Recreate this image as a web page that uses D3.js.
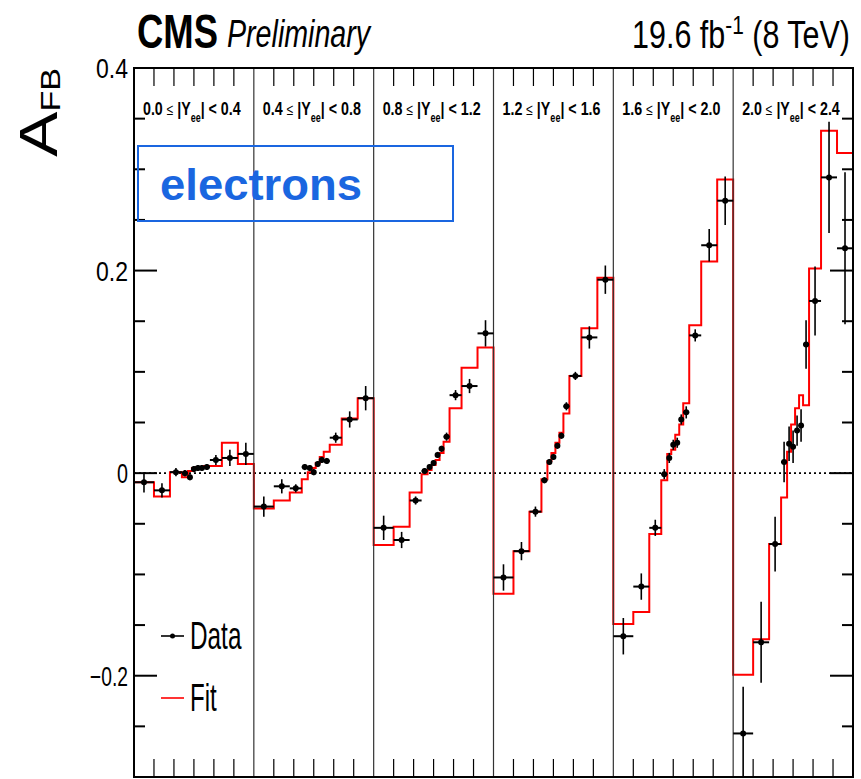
<!DOCTYPE html>
<html>
<head>
<meta charset="utf-8">
<script src="https://cdn.jsdelivr.net/npm/d3@7"></script>
<style>
  body { margin: 0; background: #fff; }
  svg { display: block; }
  text { font-family: "Liberation Sans", Arial, Helvetica, sans-serif; }
</style>
</head>
<body>
<svg id="chart" width="861" height="779"></svg>
<script>
// Dielectron mass bin edges (GeV), shared by every rapidity slice
const massEdges = [60, 70, 78, 84, 87, 89, 91, 93, 95, 98, 104, 112, 120];
// |Y_ee| slice boundaries
const rapidityEdges = ["0.0", "0.4", "0.8", "1.2", "1.6", "2.0", "2.4"];

// Fitted A_FB per rapidity slice (12 mass bins each)
const fitY00 = [-0.009, -0.023, 0.001, -0.004, 0.002, 0.005, 0.006, 0.006, 0.007, 0.007, 0.030, 0.009];
const fitY04 = [-0.035, -0.027, -0.019, -0.006, 0.001, 0.005, 0.010, 0.016, 0.021, 0.028, 0.054, 0.074];
const fitY08 = [-0.071, -0.053, -0.019, -0.001, 0.003, 0.008, 0.013, 0.020, 0.031, 0.064, 0.104, 0.124];
const fitY12 = [-0.119, -0.077, -0.038, -0.006, 0.012, 0.020, 0.030, 0.040, 0.059, 0.096, 0.143, 0.193];
const fitY16 = [-0.149, -0.137, -0.060, -0.007, 0.019, 0.023, 0.038, 0.048, 0.069, 0.146, 0.209, 0.290];
const fitY20 = [-0.199, -0.164, -0.070, -0.024, 0.021, 0.048, 0.064, 0.077, 0.067, 0.202, 0.338, 0.316];

// Measured A_FB per rapidity slice
const dataY00 = [-0.009, -0.017, 0.001, 0.000, -0.004, 0.004, 0.005, 0.005, 0.006, 0.013, 0.015, 0.019];
const dataY04 = [-0.033, -0.013, -0.015, 0.006, 0.005, 0.001, 0.009, 0.013, 0.012, 0.035, 0.053, 0.074];
const dataY08 = [-0.054, -0.066, -0.027, 0.002, 0.006, 0.010, 0.018, 0.024, 0.036, 0.077, 0.086, 0.138];
const dataY12 = [-0.103, -0.077, -0.038, -0.007, 0.011, 0.016, 0.027, 0.037, 0.066, 0.096, 0.134, 0.191];
const dataY16 = [-0.161, -0.112, -0.054, -0.001, 0.015, 0.028, 0.030, 0.053, 0.060, 0.136, 0.225, 0.269];
const dataY20 = [-0.257, -0.167, -0.070, 0.011, 0.029, 0.026, 0.042, 0.047, 0.127, 0.170, 0.292, 0.222];

// Statistical uncertainties on the measured values
const errY00 = [0.010, 0.007, 0.004, 0.003, 0.003, 0.003, 0.003, 0.003, 0.003, 0.005, 0.008, 0.011];
const errY04 = [0.010, 0.007, 0.004, 0.003, 0.003, 0.003, 0.003, 0.003, 0.003, 0.005, 0.008, 0.012];
const errY08 = [0.012, 0.008, 0.004, 0.003, 0.003, 0.003, 0.003, 0.003, 0.004, 0.005, 0.007, 0.013];
const errY12 = [0.013, 0.009, 0.005, 0.003, 0.003, 0.003, 0.003, 0.003, 0.004, 0.004, 0.011, 0.014];
const errY16 = [0.018, 0.013, 0.008, 0.005, 0.005, 0.005, 0.005, 0.005, 0.006, 0.006, 0.016, 0.024];
const errY20 = [0.046, 0.040, 0.027, 0.020, 0.017, 0.016, 0.015, 0.016, 0.024, 0.034, 0.055, 0.075];

const yTickLabels = [0.4, 0.2, 0, -0.2];

const fitSets = [fitY00, fitY04, fitY08, fitY12, fitY16, fitY20];
const dataSets = [dataY00, dataY04, dataY08, dataY12, dataY16, dataY20];
const errSets = [errY00, errY04, errY08, errY12, errY16, errY20];

// ---- layout ----
const L = 134, R = 853, T = 68, B = 777;
const nPanels = fitSets.length;
const pw = (R - L) / nPanels;

const svg = d3.select("#chart");
const y = d3.scaleLinear().domain([-0.3, 0.4]).range([B, T]);
const xPanel = d3.range(nPanels).map(i =>
  d3.scaleLinear().domain([massEdges[0], massEdges[massEdges.length - 1]])
    .range([L + i * pw, L + (i + 1) * pw]));

svg.append("defs").append("clipPath").attr("id", "plotClip")
  .append("rect").attr("x", L).attr("y", T).attr("width", R - L).attr("height", B - T);

const plot = svg.append("g").attr("clip-path", "url(#plotClip)");

// zero reference line
plot.append("line")
  .attr("x1", L).attr("x2", R).attr("y1", y(0)).attr("y2", y(0))
  .attr("stroke", "#000").attr("stroke-width", 1.6).attr("stroke-dasharray", "2,3");

// fitted step histogram, continuous over all slices
const stepPts = [];
fitSets.forEach((vals, i) => {
  vals.forEach((v, j) => {
    stepPts.push([xPanel[i](massEdges[j]), y(v)]);
    stepPts.push([xPanel[i](massEdges[j + 1]), y(v)]);
  });
});
plot.append("path")
  .attr("d", d3.line()(stepPts))
  .attr("fill", "none").attr("stroke", "#ff0000").attr("stroke-width", 2);

// slice separators
d3.range(1, nPanels).forEach(i => {
  plot.append("line")
    .attr("x1", L + i * pw).attr("x2", L + i * pw).attr("y1", T).attr("y2", B)
    .attr("stroke", "#333").attr("stroke-width", 1.2);
});

// data points with error bars
dataSets.forEach((vals, i) => {
  const xs = xPanel[i];
  const g = plot.append("g");
  vals.forEach((v, j) => {
    const lo = massEdges[j], hi = massEdges[j + 1];
    const cx = xs((lo + hi) / 2);
    const e = errSets[i][j];
    g.append("line").attr("x1", cx).attr("x2", cx).attr("y1", y(v - e)).attr("y2", y(v + e))
      .attr("stroke", "#000").attr("stroke-width", 1.6);
    g.append("line").attr("x1", xs(lo)).attr("x2", xs(hi)).attr("y1", y(v)).attr("y2", y(v))
      .attr("stroke", "#000").attr("stroke-width", 2);
    g.append("circle").attr("cx", cx).attr("cy", y(v)).attr("r", 3).attr("fill", "#000");
  });
});

// frame
svg.append("rect").attr("x", L).attr("y", T).attr("width", R - L).attr("height", B - T)
  .attr("fill", "none").attr("stroke", "#000").attr("stroke-width", 2);

// x ticks (every 10 GeV inside each slice), top and bottom
const ticks = svg.append("g").attr("stroke", "#000").attr("stroke-width", 1.2);
xPanel.forEach(xs => {
  d3.range(70, 120, 10).forEach(m => {
    ticks.append("line").attr("x1", xs(m)).attr("x2", xs(m)).attr("y1", T).attr("y2", T + 18);
    ticks.append("line").attr("x1", xs(m)).attr("x2", xs(m)).attr("y1", B - 18).attr("y2", B);
  });
});

// y ticks, left and right
d3.range(-6, 9).map(k => k * 0.05).forEach(v => {
  const major = Math.abs(v / 0.2 - Math.round(v / 0.2)) < 1e-6;
  const len = major ? 23 : 11;
  ticks.append("line").attr("x1", L).attr("x2", L + len).attr("y1", y(v)).attr("y2", y(v))
    .attr("stroke-width", 2);
  ticks.append("line").attr("x1", R - len).attr("x2", R).attr("y1", y(v)).attr("y2", y(v))
    .attr("stroke-width", 2);
});

// text helper: places text and squeezes it horizontally to a target width
function placeText(parent, x, yb, opts, build) {
  const g = parent.append("g");
  const t = g.append("text")
    .attr("font-size", opts.size)
    .attr("font-weight", opts.weight || "normal")
    .attr("font-style", opts.style || "normal")
    .attr("fill", opts.fill || "#000")
    .attr("text-anchor", opts.anchor || "start");
  if (typeof build === "string") t.text(build); else build(t);
  const w = t.node().getBBox().width;
  const sx = opts.width ? opts.width / w : 1;
  g.attr("transform", `translate(${x},${yb})${opts.rotate ? " rotate(" + opts.rotate + ")" : ""} scale(${sx},1)`);
  return g;
}

// y tick labels
const fmt = v => v === 0 ? "0" : (v < 0 ? "\u2212" : "") + Math.abs(v).toFixed(1);
yTickLabels.forEach(v => {
  const s = fmt(v);
  placeText(svg, 128, y(v) + 10, { size: 27, anchor: "end", width: s.length === 1 ? 11 : (s.length === 3 ? 32 : 38) }, s);
});

// y axis title
placeText(svg, 57, 157, { size: 54, rotate: -90, width: 89 }, t => {
  t.append("tspan").text("A");
  t.append("tspan").attr("font-size", 27).attr("dy", 3).text("FB");
});

// header
placeText(svg, 137, 48, { size: 49, weight: "bold", width: 81 }, "CMS");
placeText(svg, 227, 47, { size: 39, style: "italic", width: 145 }, "Preliminary");
placeText(svg, 850, 48, { size: 38, anchor: "end", width: 218 }, t => {
  t.append("tspan").text("19.6 fb");
  t.append("tspan").attr("font-size", 26).attr("dy", -14).text("-1");
  t.append("tspan").attr("dy", 14).text(" (8 TeV)");
});

// rapidity slice labels
d3.range(nPanels).forEach(i => {
  placeText(svg, L + i * pw + 9, 115, { size: 19, weight: "bold", width: 98 }, t => {
    t.append("tspan").text(rapidityEdges[i] + " ");
    t.append("tspan").attr("font-weight", "normal").attr("font-size", 16).text("\u2264");
    t.append("tspan").text(" |Y");
    t.append("tspan").attr("font-size", 12).attr("dy", 7).text("ee");
    t.append("tspan").attr("dy", -7).text("| < " + rapidityEdges[i + 1]);
  });
});

// channel tag
svg.append("rect").attr("x", 138).attr("y", 146).attr("width", 315).attr("height", 75)
  .attr("fill", "none").attr("stroke", "#1a66e0").attr("stroke-width", 2);
placeText(svg, 160, 200, { size: 44, weight: "bold", fill: "#1a66e0", width: 202 }, "electrons");

// legend
const leg = svg.append("g");
leg.append("line").attr("x1", 161).attr("x2", 184).attr("y1", 636).attr("y2", 636)
  .attr("stroke", "#000").attr("stroke-width", 1.6);
leg.append("circle").attr("cx", 172.5).attr("cy", 636).attr("r", 2.5).attr("fill", "#000");
placeText(leg, 190, 649, { size: 38, width: 52 }, "Data");
leg.append("line").attr("x1", 161).attr("x2", 184).attr("y1", 698).attr("y2", 698)
  .attr("stroke", "#ff0000").attr("stroke-width", 1.6);
placeText(leg, 190, 711, { size: 38, width: 27 }, "Fit");
</script>
</body>
</html>
